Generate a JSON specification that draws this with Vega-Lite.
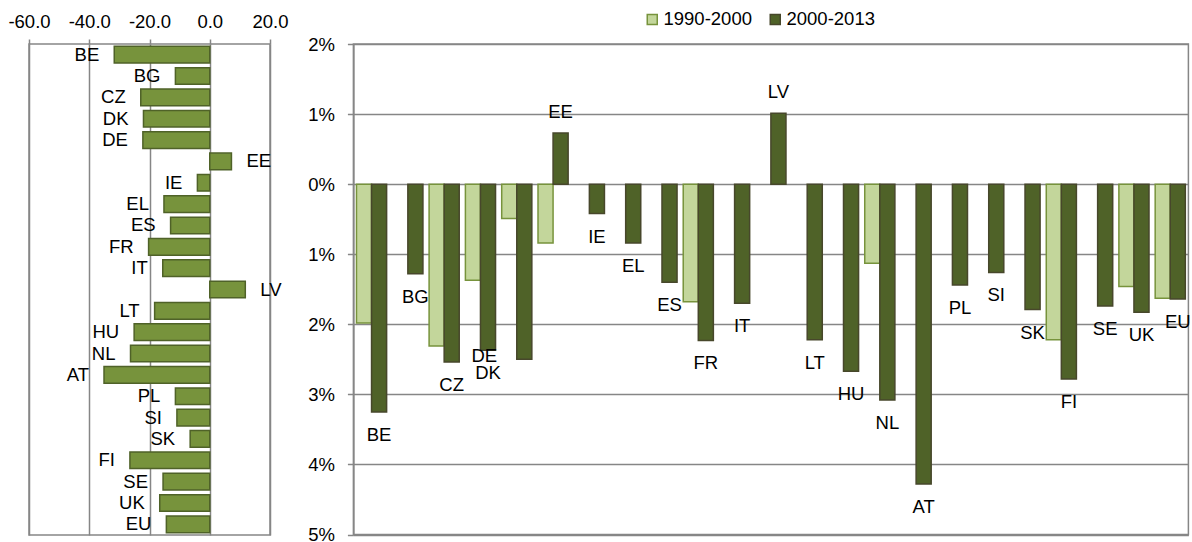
{
  "$schema": "https://vega.github.io/schema/vega-lite/v6.json",
  "background": "white",
  "padding": {"left": 7, "top": 10, "right": 2, "bottom": 2},
  "spacing": 83.4,
  "bounds": "flush",
  "config": {
    "font": "Liberation Sans",
    "view": {"stroke": "#868686", "strokeWidth": 1.5},
    "axis": {
      "labelFont": "Liberation Sans",
      "labelFontSize": 18.5,
      "labelColor": "#000000",
      "gridColor": "#868686",
      "gridWidth": 1.5,
      "tickColor": "#868686",
      "tickWidth": 1.5,
      "domainColor": "#868686",
      "domainWidth": 1.5,
      "labelFlush": false,
      "labelOverlap": false
    },
    "text": {"font": "Liberation Sans", "fontSize": 18.5, "color": "#000000"}
  },
  "datasets": {
    "left": [
      {"country": "BE", "change": -31.7},
      {"country": "BG", "change": -11.4},
      {"country": "CZ", "change": -22.9},
      {"country": "DK", "change": -22.0},
      {"country": "DE", "change": -22.2},
      {"country": "EE", "change": 7.2},
      {"country": "IE", "change": -4.1},
      {"country": "EL", "change": -15.2},
      {"country": "ES", "change": -13.0},
      {"country": "FR", "change": -20.3},
      {"country": "IT", "change": -15.6},
      {"country": "LV", "change": 11.8},
      {"country": "LT", "change": -18.3},
      {"country": "HU", "change": -25.1},
      {"country": "NL", "change": -26.3},
      {"country": "AT", "change": -35.1},
      {"country": "PL", "change": -11.4},
      {"country": "SI", "change": -10.9},
      {"country": "SK", "change": -6.5},
      {"country": "FI", "change": -26.5},
      {"country": "SE", "change": -15.5},
      {"country": "UK", "change": -16.6},
      {"country": "EU", "change": -14.4}
    ],
    "right": [
      {"country": "BE", "period": "1990-2000", "value": -0.0198},
      {"country": "BE", "period": "2000-2013", "value": -0.0325},
      {"country": "BG", "period": "2000-2013", "value": -0.0128},
      {"country": "CZ", "period": "1990-2000", "value": -0.0231},
      {"country": "CZ", "period": "2000-2013", "value": -0.0254},
      {"country": "DK", "period": "1990-2000", "value": -0.0137},
      {"country": "DK", "period": "2000-2013", "value": -0.0237},
      {"country": "DE", "period": "1990-2000", "value": -0.0049},
      {"country": "DE", "period": "2000-2013", "value": -0.0250},
      {"country": "EE", "period": "1990-2000", "value": -0.0084},
      {"country": "EE", "period": "2000-2013", "value": 0.0073},
      {"country": "IE", "period": "2000-2013", "value": -0.0042},
      {"country": "EL", "period": "2000-2013", "value": -0.0084},
      {"country": "ES", "period": "2000-2013", "value": -0.0140},
      {"country": "FR", "period": "1990-2000", "value": -0.0168},
      {"country": "FR", "period": "2000-2013", "value": -0.0223},
      {"country": "IT", "period": "2000-2013", "value": -0.0170},
      {"country": "LV", "period": "2000-2013", "value": 0.0101},
      {"country": "LT", "period": "2000-2013", "value": -0.0222},
      {"country": "HU", "period": "2000-2013", "value": -0.0267},
      {"country": "NL", "period": "1990-2000", "value": -0.0113},
      {"country": "NL", "period": "2000-2013", "value": -0.0308},
      {"country": "AT", "period": "2000-2013", "value": -0.0428},
      {"country": "PL", "period": "2000-2013", "value": -0.0144},
      {"country": "SI", "period": "2000-2013", "value": -0.0126},
      {"country": "SK", "period": "2000-2013", "value": -0.0179},
      {"country": "FI", "period": "1990-2000", "value": -0.0222},
      {"country": "FI", "period": "2000-2013", "value": -0.0278},
      {"country": "SE", "period": "2000-2013", "value": -0.0174},
      {"country": "UK", "period": "1990-2000", "value": -0.0146},
      {"country": "UK", "period": "2000-2013", "value": -0.0183},
      {"country": "EU", "period": "1990-2000", "value": -0.0163},
      {"country": "EU", "period": "2000-2013", "value": -0.0164}
    ]
  },
  "hconcat": [
    {
      "width": 241,
      "height": 491,
      "data": {"name": "left"},
      "encoding": {
        "y": {"field": "country", "type": "nominal", "sort": null, "axis": null,
              "scale": {"paddingInner": 0.22, "paddingOuter": 0.11}},
        "x": {"field": "change", "type": "quantitative",
              "scale": {"domain": [-60, 20], "nice": false, "zero": false},
              "axis": {"orient": "top", "values": [-60, -40, -20, 0, 20], "title": null,
                       "labelExpr": "replace(format(datum.value, '.1f'), '\u2212', '-')",
                       "tickSize": 5, "labelPadding": 8, "domain": false, "grid": true}}
      },
      "layer": [
        {"mark": {"type": "bar", "fill": "#77933c", "stroke": "#4f6228", "strokeWidth": 1.5}},
        {"transform": [{"filter": "datum.change < 0"}],
         "mark": {"type": "text", "align": "right", "baseline": "middle", "dx": -15},
         "encoding": {"text": {"field": "country"}}},
        {"transform": [{"filter": "datum.change > 0"}],
         "mark": {"type": "text", "align": "left", "baseline": "middle", "dx": 15},
         "encoding": {"text": {"field": "country"}}}
      ]
    },
    {
      "width": 835,
      "height": 490.5,
      "data": {"name": "right"},
      "encoding": {
        "x": {"field": "country", "type": "nominal", "sort": null, "axis": null,
              "scale": {"paddingInner": 0.17, "paddingOuter": 0.085}},
        "xOffset": {"field": "period", "type": "nominal",
                    "scale": {"domain": ["1990-2000", "2000-2013"]}},
        "y": {"field": "value", "type": "quantitative",
              "scale": {"domain": [-0.05, 0.02], "nice": false},
              "axis": {"values": [-0.05, -0.04, -0.03, -0.02, -0.01, 0, 0.01, 0.02],
                       "labelExpr": "format(abs(datum.value), '.0%')",
                       "title": null, "tickSize": 6, "labelPadding": 13, "grid": true}}
      },
      "layer": [
        {
          "mark": {"type": "bar", "strokeWidth": 1.5},
          "encoding": {
            "fill": {"field": "period", "type": "nominal",
                     "scale": {"domain": ["1990-2000", "2000-2013"], "range": ["#c3d69b", "#4f6228"]},
                     "legend": {"title": null, "orient": "none", "legendX": 614, "legendY": -34,
                                "direction": "horizontal", "symbolType": "square", "symbolSize": 100,
                                "labelFontSize": 18.5, "labelFont": "Liberation Sans", "labelColor": "#000000",
                                "columnPadding": 14, "labelOffset": 2, "padding": 0,
                                "symbolStrokeWidth": 1.5, "symbolOpacity": 1}},
            "stroke": {"field": "period", "type": "nominal",
                       "scale": {"domain": ["1990-2000", "2000-2013"], "range": ["#77933c", "#47472b"]},
                       "legend": {"title": null, "orient": "none", "legendX": 614, "legendY": -34,
                                "direction": "horizontal", "symbolType": "square", "symbolSize": 100,
                                "labelFontSize": 18.5, "labelFont": "Liberation Sans", "labelColor": "#000000",
                                "columnPadding": 14, "labelOffset": 2, "padding": 0,
                                "symbolStrokeWidth": 1.5, "symbolOpacity": 1}}
          }
        },
        {"transform": [{"filter": "datum.period == '2000-2013' && datum.value < 0 && datum.country != 'DE'"}],
         "mark": {"type": "text", "align": "center", "baseline": "middle", "dy": 23},
         "encoding": {"text": {"field": "country"}}},
        {"transform": [{"filter": "datum.period == '2000-2013' && datum.value > 0"}],
         "mark": {"type": "text", "align": "center", "baseline": "middle", "dy": -21},
         "encoding": {"text": {"field": "country"}}},
        {"transform": [{"filter": "datum.period == '2000-2013' && datum.country == 'DE'"}],
         "mark": {"type": "text", "align": "center", "baseline": "middle", "dx": -40, "dy": -3},
         "encoding": {"text": {"field": "country"}}}
      ]
    }
  ]
}
